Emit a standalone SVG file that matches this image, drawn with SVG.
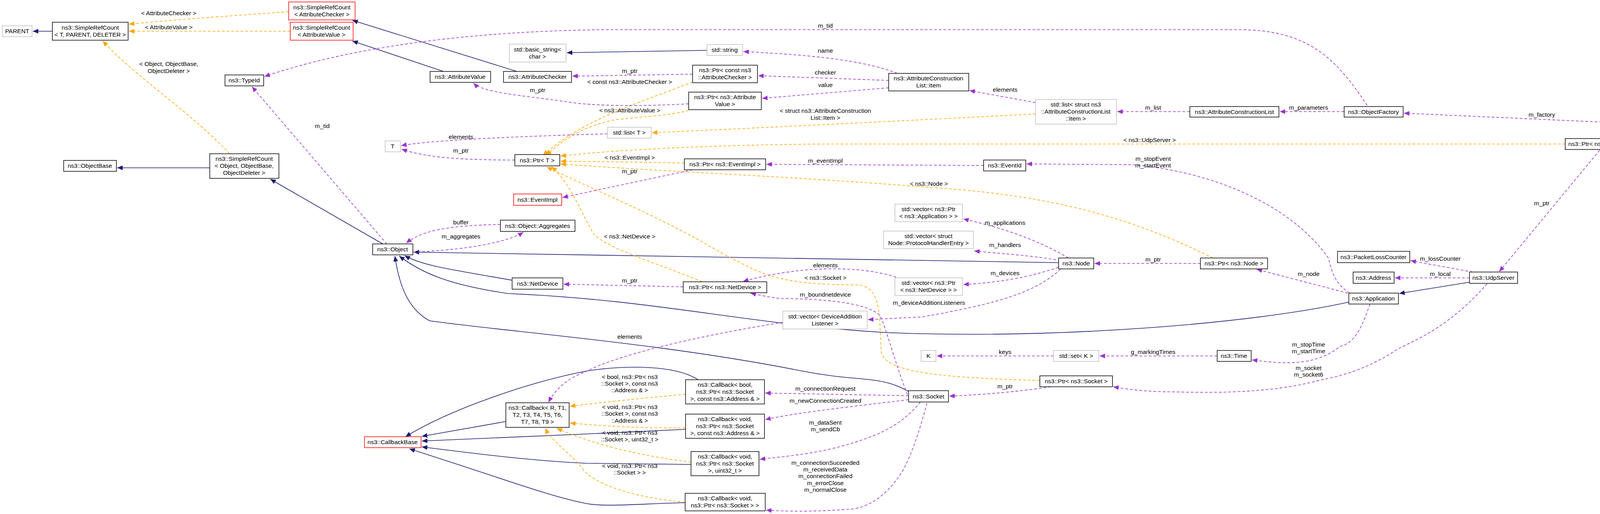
<svg xmlns="http://www.w3.org/2000/svg" width="4517" height="1317" viewBox="0 0 4517 1317">
<style>
.n{fill:#fff;stroke:#000;stroke-width:1.5}
.g{fill:#fff;stroke:#bfbfbf;stroke-width:1.5}
.r{fill:#fff;stroke:#ff0000;stroke-width:1.5}
.h{fill:#bfbfbf;stroke:#000;stroke-width:1.5}
text{font-family:"Liberation Sans",Arial,sans-serif;font-size:15.5px;fill:#000;text-anchor:middle}
.i{fill:none;stroke:#191970;stroke-width:1.6}
.u{fill:none;stroke:#9a32cd;stroke-width:1.6;stroke-dasharray:7,5}
.t{fill:none;stroke:#ffa500;stroke-width:1.6;stroke-dasharray:7,5}
.i{marker-end:url(#ai)}
.u{marker-end:url(#au)}
.t{marker-end:url(#at)}
</style>
<defs>
<marker id="ai" markerUnits="userSpaceOnUse" markerWidth="16" markerHeight="12" refX="14" refY="6" orient="auto"><path d="M0,0 L14,6 L0,12 z" fill="#191970"/></marker>
<marker id="au" markerUnits="userSpaceOnUse" markerWidth="16" markerHeight="12" refX="14" refY="6" orient="auto"><path d="M0,0 L14,6 L0,12 z" fill="#9a32cd"/></marker>
<marker id="at" markerUnits="userSpaceOnUse" markerWidth="16" markerHeight="12" refX="14" refY="6" orient="auto"><path d="M0,0 L14,6 L0,12 z" fill="#ffa500"/></marker>
</defs>
<rect width="4517" height="1317" fill="#fff"/>
<g id="connectors">
<path class="t" d="M739,30 C600,40 450,50 330,62"/>
<path class="t" d="M743,80 L330,80"/>
<path class="t" d="M588,394 C480,280 350,200 263,105"/>
<path class="i" d="M134,80 L84,80"/>
<path class="i" d="M1323,183 L902,52"/>
<path class="i" d="M1135,183 L902,105"/>
<path class="i" d="M537,430 L300,430"/>
<path class="i" d="M980,625 L692,459"/>
<path class="i" d="M1810,129 L1451,135"/>
<path class="i" d="M1311,718 C1150,690 1080,680 1036,655"/>
<path class="i" d="M2710,673 L1059,646"/>
<path class="i" d="M3453,774 C3200,830 2700,870 2266,852 C1900,830 1700,770 1300,752 C1150,730 1080,700 1022,656"/>
<path class="i" d="M2326,1003 C2250,960 2200,980 2050,950 C1700,880 1300,850 1100,822 C1040,790 1020,720 1011,656"/>
<path class="i" d="M3762,723 L3582,752"/>
<path class="i" d="M1295,1080 L1080,1118"/>
<path class="i" d="M1787,973 C1730,935 1600,935 1500,951 C1350,980 1150,1050 1038,1119"/>
<path class="i" d="M1755,1100 L1500,1112 L1080,1130"/>
<path class="i" d="M1769,1190 L1500,1187 C1350,1180 1200,1160 1080,1145"/>
<path class="i" d="M1754,1288 C1650,1290 1550,1300 1500,1290 C1400,1270 1300,1230 1048,1150"/>
<path class="t" d="M1773,210 C1650,260 1500,300 1390,398"/>
<path class="t" d="M1763,283 C1700,300 1600,300 1560,310 C1480,330 1440,360 1398,398"/>
<path class="t" d="M4007,369 L2100,369 C1800,372 1560,385 1435,400"/>
<path class="t" d="M1752,418 C1650,415 1500,414 1435,413"/>
<path class="t" d="M3105,661 C2900,560 2700,500 2378,480 C2000,450 1700,440 1435,420"/>
<path class="t" d="M1797,722 C1700,680 1560,640 1520,600 C1480,530 1460,470 1412,427"/>
<path class="t" d="M2662,975 C2450,968 2260,960 2256,900 C2250,820 2260,740 2200,730 C1980,730 1950,700 1850,650 C1700,560 1550,500 1400,428"/>
<path class="t" d="M1755,1010 C1650,1020 1550,1030 1459,1041"/>
<path class="t" d="M1755,1096 C1650,1098 1550,1092 1459,1084"/>
<path class="t" d="M1769,1184 C1650,1170 1520,1140 1425,1097"/>
<path class="t" d="M1754,1287 C1620,1275 1520,1240 1490,1200 C1460,1160 1410,1130 1396,1097"/>
<path class="t" d="M2651,292 C2300,310 1900,330 1669,340"/>
<path class="u" d="M3500,270 C3420,150 3350,76 3170,76 L1550,76 C1200,80 900,120 677,196"/>
<path class="u" d="M990,625 L645,222"/>
<path class="u" d="M1773,190 C1650,192 1550,194 1465,195"/>
<path class="u" d="M2297,188 C2200,150 2050,140 1903,132"/>
<path class="u" d="M2275,206 L1941,194"/>
<path class="u" d="M2275,225 L1951,252"/>
<path class="u" d="M1763,266 C1650,272 1560,272 1480,265 C1350,245 1240,240 1212,213"/>
<path class="u" d="M2651,263 L2482,232"/>
<path class="u" d="M3046,286 L2860,286"/>
<path class="u" d="M3441,286 L3276,286"/>
<path class="u" d="M4329,323 L3594,290"/>
<path class="u" d="M4329,340 L4214,355"/>
<path class="u" d="M4095,385 L3838,696"/>
<path class="u" d="M1555,343 C1300,350 1100,360 1027,373"/>
<path class="u" d="M1318,410 C1150,410 1080,400 1028,382"/>
<path class="u" d="M1773,435 L1440,506"/>
<path class="u" d="M2518,424 L1962,421"/>
<path class="u" d="M3455,751 C3410,720 3410,690 3400,660 C3300,520 3100,440 2900,422 L2628,420"/>
<path class="u" d="M2735,661 C2650,610 2550,580 2466,561"/>
<path class="u" d="M2715,668 C2650,655 2560,650 2494,643"/>
<path class="u" d="M3073,675 L2802,675"/>
<path class="u" d="M3450,751 L3217,690"/>
<path class="u" d="M2710,685 C2620,715 2540,725 2466,729"/>
<path class="u" d="M2294,710 C2200,680 2050,680 1902,721"/>
<path class="u" d="M1749,735 L1443,728"/>
<path class="u" d="M2323,1011 C2280,900 2260,803 2246,803 C2210,775 2100,765 1998,765 C1960,760 1940,755 1921,751"/>
<path class="u" d="M2715,690 C2650,750 2553,778 2361,812 L2222,819"/>
<path class="u" d="M2004,826 C1850,850 1600,900 1500,952 C1450,970 1420,1000 1404,1031"/>
<path class="u" d="M2326,1014 L1959,1007"/>
<path class="u" d="M2326,1024 C2200,1040 2050,1055 1959,1075"/>
<path class="u" d="M2356,1030 C2300,1100 2230,1120 2170,1139 C2080,1165 2000,1170 1945,1177"/>
<path class="u" d="M2373,1033 C2350,1120 2330,1170 2313,1203 C2260,1290 2200,1305 2170,1305 C2080,1312 2000,1310 1961,1307"/>
<path class="u" d="M2690,991 C2600,1005 2500,1012 2430,1015"/>
<path class="u" d="M3807,727 C3700,850 3600,880 3574,897 C3480,960 3383,973 3383,973 C3250,1010 3096,1006 3000,1004 C2950,1004 2900,1000 2850,991"/>
<path class="u" d="M3507,779 C3480,860 3460,880 3430,888 C3370,935 3300,935 3205,922"/>
<path class="u" d="M2697,912 L2398,912"/>
<path class="u" d="M3116,912 L2815,912"/>
<path class="u" d="M1281,575 C1150,578 1080,590 1040,623"/>
<path class="u" d="M1057,646 C1200,640 1300,620 1340,595"/>
<path class="u" d="M3770,697 L3611,668"/>
<path class="u" d="M3762,712 L3571,712"/>
<g id="labels">
<text x="432" y="39">&lt; AttributeChecker &gt;</text>
<text x="432" y="75">&lt; AttributeValue &gt;</text>
<text x="432" y="169">&lt; Object, ObjectBase,</text>
<text x="432" y="187">ObjectDeleter &gt;</text>
<text x="1376" y="236">m_ptr</text>
<text x="825" y="328">m_tid</text>
<text x="1180" y="356">elements</text>
<text x="1180" y="391">m_ptr</text>
<text x="1180" y="575">buffer</text>
<text x="1180" y="611">m_aggregates</text>
<text x="2113" y="71">m_tid</text>
<text x="2113" y="135">name</text>
<text x="1612" y="187">m_ptr</text>
<text x="1612" y="215">&lt; const ns3::AttributeChecker &gt;</text>
<text x="2113" y="191">checker</text>
<text x="2113" y="223">value</text>
<text x="1612" y="288">&lt; ns3::AttributeValue &gt;</text>
<text x="2573" y="235">elements</text>
<text x="2952" y="281">m_list</text>
<text x="2113" y="289">&lt; struct ns3::AttributeConstruction</text>
<text x="2113" y="307">List::Item &gt;</text>
<text x="2943" y="364">&lt; ns3::UdpServer &gt;</text>
<text x="1612" y="409">&lt; ns3::EventImpl &gt;</text>
<text x="2113" y="417">m_eventImpl</text>
<text x="2952" y="412">m_stopEvent</text>
<text x="2952" y="429">m_startEvent</text>
<text x="1612" y="444">m_ptr</text>
<text x="2378" y="476">&lt; ns3::Node &gt;</text>
<text x="2573" y="576">m_applications</text>
<text x="2573" y="633">m_handlers</text>
<text x="1612" y="611">&lt; ns3::NetDevice &gt;</text>
<text x="2952" y="670">m_ptr</text>
<text x="2113" y="685">elements</text>
<text x="1612" y="724">m_ptr</text>
<text x="2113" y="717">&lt; ns3::Socket &gt;</text>
<text x="2573" y="705">m_devices</text>
<text x="2113" y="760">m_boundnetdevice</text>
<text x="2378" y="781">m_deviceAdditionListeners</text>
<text x="1612" y="868">elements</text>
<text x="2573" y="907">keys</text>
<text x="2952" y="907">g_markingTimes</text>
<text x="2573" y="995">m_ptr</text>
<text x="1612" y="971">&lt; bool, ns3::Ptr&lt; ns3</text>
<text x="1612" y="988">::Socket &gt;, const ns3</text>
<text x="1612" y="1005">::Address &amp; &gt;</text>
<text x="2113" y="1001">m_connectionRequest</text>
<text x="2113" y="1032">m_newConnectionCreated</text>
<text x="1612" y="1048">&lt; void, ns3::Ptr&lt; ns3</text>
<text x="1612" y="1065">::Socket &gt;, const ns3</text>
<text x="1612" y="1083">::Address &amp; &gt;</text>
<text x="1612" y="1114">&lt; void, ns3::Ptr&lt; ns3</text>
<text x="1612" y="1131">::Socket &gt;, uint32_t &gt;</text>
<text x="2113" y="1088">m_dataSent</text>
<text x="2113" y="1105">m_sendCb</text>
<text x="1612" y="1199">&lt; void, ns3::Ptr&lt; ns3</text>
<text x="1612" y="1216">::Socket &gt; &gt;</text>
<text x="2113" y="1191">m_connectionSucceeded</text>
<text x="2113" y="1208">m_receivedData</text>
<text x="2113" y="1225">m_connectionFailed</text>
<text x="2113" y="1243">m_errorClose</text>
<text x="2113" y="1260">m_normalClose</text>
<text x="3350" y="281">m_parameters</text>
<text x="3947" y="299">m_factory</text>
<text x="4271" y="340">m_server</text>
<text x="3947" y="526">m_ptr</text>
<text x="3687" y="668">m_lossCounter</text>
<text x="3687" y="707">m_local</text>
<text x="3350" y="707">m_node</text>
<text x="3350" y="888">m_stopTime</text>
<text x="3350" y="905">m_startTime</text>
<text x="3350" y="948">m_socket</text>
<text x="3350" y="965">m_socket6</text>
</g>
</g>
<g id="n_parent"><rect class="g" x="6" y="66" width="76" height="28"/><text x="44" y="85">PARENT</text></g>
<g id="n_src_tpd"><rect class="n" x="134" y="57" width="194" height="46"/><text x="231" y="76">ns3::SimpleRefCount</text><text x="231" y="94">&lt; T, PARENT, DELETER &gt;</text></g>
<g id="n_src_ac"><rect class="r" x="739" y="5" width="170" height="46"/><text x="824" y="24">ns3::SimpleRefCount</text><text x="824" y="42">&lt; AttributeChecker &gt;</text></g>
<g id="n_src_av"><rect class="r" x="743" y="57" width="161" height="46"/><text x="823" y="76">ns3::SimpleRefCount</text><text x="823" y="94">&lt; AttributeValue &gt;</text></g>
<g id="n_bstring"><rect class="g" x="1304" y="113" width="145" height="46"/><text x="1376" y="132">std::basic_string&lt;</text><text x="1376" y="150">char &gt;</text></g>
<g id="n_typeid"><rect class="n" x="576" y="192" width="99" height="28"/><text x="625" y="211">ns3::TypeId</text></g>
<g id="n_attrval"><rect class="n" x="1101" y="183" width="155" height="28"/><text x="1178" y="202">ns3::AttributeValue</text></g>
<g id="n_attrchk"><rect class="n" x="1289" y="183" width="174" height="28"/><text x="1376" y="202">ns3::AttributeChecker</text></g>
<g id="n_T"><rect class="g" x="986" y="361" width="39" height="28"/><text x="1005" y="380">T</text></g>
<g id="n_ptrT"><rect class="n" x="1318" y="396" width="115" height="29"/><text x="1375" y="416">ns3::Ptr&lt; T &gt;</text></g>
<g id="n_objbase"><rect class="n" x="163" y="411" width="135" height="28"/><text x="230" y="430">ns3::ObjectBase</text></g>
<g id="n_src_obj"><rect class="n" x="537" y="394" width="177" height="63"/><text x="625" y="412">ns3::SimpleRefCount</text><text x="625" y="430">&lt; Object, ObjectBase,</text><text x="625" y="448">ObjectDeleter &gt;</text></g>
<g id="n_eventimpl"><rect class="r" x="1315" y="497" width="123" height="29"/><text x="1376" y="517">ns3::EventImpl</text></g>
<g id="n_aggr"><rect class="n" x="1281" y="564" width="191" height="29"/><text x="1376" y="584">ns3::Object::Aggregates</text></g>
<g id="n_object"><rect class="n" x="954" y="625" width="103" height="28"/><text x="1005" y="644">ns3::Object</text></g>
<g id="n_netdev"><rect class="n" x="1311" y="712" width="130" height="29"/><text x="1376" y="732">ns3::NetDevice</text></g>
<g id="n_cbR"><rect class="n" x="1295" y="1032" width="162" height="63"/><text x="1376" y="1050">ns3::Callback&lt; R, T1,</text><text x="1376" y="1068">T2, T3, T4, T5, T6,</text><text x="1376" y="1086">T7, T8, T9 &gt;</text></g>
<g id="n_cbbase"><rect class="r" x="933" y="1119" width="145" height="28"/><text x="1005" y="1138">ns3::CallbackBase</text></g>
<g id="n_string"><rect class="g" x="1810" y="114" width="91" height="28"/><text x="1855" y="133">std::string</text></g>
<g id="n_ptrac"><rect class="n" x="1773" y="167" width="166" height="45"/><text x="1856" y="185">ns3::Ptr&lt; const ns3</text><text x="1856" y="203">::AttributeChecker &gt;</text></g>
<g id="n_item"><rect class="n" x="2275" y="188" width="205" height="45"/><text x="2377" y="206">ns3::AttributeConstruction</text><text x="2377" y="224">List::Item</text></g>
<g id="n_ptrav"><rect class="n" x="1763" y="236" width="186" height="45"/><text x="1856" y="254">ns3::Ptr&lt; ns3::Attribute</text><text x="1856" y="272">Value &gt;</text></g>
<g id="n_listitem"><rect class="g" x="2651" y="255" width="207" height="63"/><text x="2754" y="273">std::list&lt; struct ns3</text><text x="2754" y="291">::AttributeConstructionList</text><text x="2754" y="309">::Item &gt;</text></g>
<g id="n_listT"><rect class="g" x="1555" y="326" width="112" height="28"/><text x="1611" y="345">std::list&lt; T &gt;</text></g>
<g id="n_ptrev"><rect class="n" x="1752" y="407" width="208" height="28"/><text x="1856" y="426">ns3::Ptr&lt; ns3::EventImpl &gt;</text></g>
<g id="n_eventid"><rect class="n" x="2518" y="410" width="108" height="28"/><text x="2572" y="429">ns3::EventId</text></g>
<g id="n_vecapp"><rect class="g" x="2291" y="523" width="173" height="45"/><text x="2377" y="541">std::vector&lt; ns3::Ptr</text><text x="2377" y="559">&lt; ns3::Application &gt; &gt;</text></g>
<g id="n_vecph"><rect class="g" x="2262" y="592" width="230" height="45"/><text x="2377" y="610">std::vector&lt; struct</text><text x="2377" y="628">Node::ProtocolHandlerEntry &gt;</text></g>
<g id="n_node"><rect class="n" x="2710" y="661" width="90" height="28"/><text x="2755" y="680">ns3::Node</text></g>
<g id="n_ptrnd"><rect class="n" x="1749" y="722" width="214" height="28"/><text x="1856" y="741">ns3::Ptr&lt; ns3::NetDevice &gt;</text></g>
<g id="n_vecnd"><rect class="g" x="2291" y="712" width="173" height="45"/><text x="2377" y="730">std::vector&lt; ns3::Ptr</text><text x="2377" y="748">&lt; ns3::NetDevice &gt; &gt;</text></g>
<g id="n_vecdal"><rect class="g" x="2004" y="797" width="216" height="46"/><text x="2112" y="816">std::vector&lt; DeviceAddition</text><text x="2112" y="834">Listener &gt;</text></g>
<g id="n_K"><rect class="g" x="2358" y="898" width="38" height="28"/><text x="2377" y="917">K</text></g>
<g id="n_setK"><rect class="g" x="2697" y="898" width="116" height="28"/><text x="2755" y="917">std::set&lt; K &gt;</text></g>
<g id="n_ptrsock"><rect class="n" x="2662" y="963" width="186" height="28"/><text x="2755" y="982">ns3::Ptr&lt; ns3::Socket &gt;</text></g>
<g id="n_socket"><rect class="n" x="2326" y="1001" width="102" height="29"/><text x="2377" y="1021">ns3::Socket</text></g>
<g id="n_cbbool"><rect class="n" x="1755" y="973" width="202" height="62"/><text x="1856" y="991">ns3::Callback&lt; bool,</text><text x="1856" y="1009">ns3::Ptr&lt; ns3::Socket</text><text x="1856" y="1027">&gt;, const ns3::Address &amp; &gt;</text></g>
<g id="n_cbvsa"><rect class="n" x="1755" y="1061" width="202" height="62"/><text x="1856" y="1079">ns3::Callback&lt; void,</text><text x="1856" y="1097">ns3::Ptr&lt; ns3::Socket</text><text x="1856" y="1115">&gt;, const ns3::Address &amp; &gt;</text></g>
<g id="n_cbvsu"><rect class="n" x="1769" y="1157" width="174" height="62"/><text x="1856" y="1175">ns3::Callback&lt; void,</text><text x="1856" y="1193">ns3::Ptr&lt; ns3::Socket</text><text x="1856" y="1211">&gt;, uint32_t &gt;</text></g>
<g id="n_cbvs"><rect class="n" x="1754" y="1264" width="205" height="45"/><text x="1856" y="1282">ns3::Callback&lt; void,</text><text x="1856" y="1300">ns3::Ptr&lt; ns3::Socket &gt; &gt;</text></g>
<g id="n_acl"><rect class="n" x="3046" y="273" width="228" height="27"/><text x="3160" y="292">ns3::AttributeConstructionList</text></g>
<g id="n_objfac"><rect class="n" x="3441" y="273" width="151" height="27"/><text x="3516" y="292">ns3::ObjectFactory</text></g>
<g id="n_helper"><rect class="h" x="4329" y="315" width="166" height="28"/><text x="4412" y="334">ns3::UdpServerHelper</text></g>
<g id="n_ptrudp"><rect class="n" x="4007" y="355" width="205" height="28"/><text x="4109" y="374">ns3::Ptr&lt; ns3::UdpServer &gt;</text></g>
<g id="n_plc"><rect class="n" x="3424" y="644" width="185" height="29"/><text x="3516" y="664">ns3::PacketLossCounter</text></g>
<g id="n_ptrnode"><rect class="n" x="3073" y="661" width="172" height="28"/><text x="3159" y="680">ns3::Ptr&lt; ns3::Node &gt;</text></g>
<g id="n_address"><rect class="n" x="3464" y="697" width="105" height="29"/><text x="3516" y="717">ns3::Address</text></g>
<g id="n_udpserver"><rect class="n" x="3762" y="697" width="123" height="29"/><text x="3823" y="717">ns3::UdpServer</text></g>
<g id="n_app"><rect class="n" x="3453" y="751" width="127" height="28"/><text x="3516" y="770">ns3::Application</text></g>
<g id="n_time"><rect class="n" x="3116" y="898" width="87" height="28"/><text x="3159" y="917">ns3::Time</text></g>
</svg>
